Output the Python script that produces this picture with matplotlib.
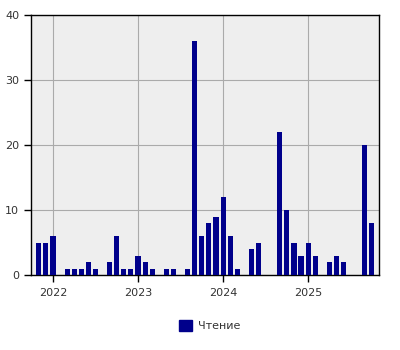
import matplotlib
matplotlib.use("Agg")
import matplotlib.pyplot as plt
import matplotlib.patches as mpatches

# Months from Nov 2021 to Oct 2025
months = []
for y in range(2021, 2026):
    for m in range(1, 13):
        if (y, m) >= (2021, 11) and (y, m) <= (2025, 10):
            months.append(f"{y}-{m:02d}")

values = [5, 5,                                   # 2021 Nov-Dec
          6, 0, 1, 1, 1, 2, 1, 0, 2, 6, 1, 1,     # 2022
          3, 2, 1, 0, 1, 1, 0, 1, 36, 6, 8, 9,    # 2023
          12, 6, 1, 0, 4, 5, 0, 0, 22, 10, 5, 3,  # 2024
          5, 3, 0, 2, 3, 2, 0, 0, 20, 8]          # 2025 Jan-Oct

year_labels = ["2022", "2023", "2024", "2025"]
series_name = "Чтение"

# position: months relative to Jan 2022
def pos(s):
    y, m = s.split("-")
    return (int(y) - 2022) * 12 + int(m) - 1

x = [pos(s) for s in months]
year_pos = [pos(f"{y}-01") for y in year_labels]

fig = plt.figure(figsize=(4, 3.5), dpi=100)
ax = fig.add_axes([0.0775, 0.214, 0.87, 0.743])
ax.set_facecolor("#eeeeee")
ax.bar(x, values, width=0.72, color="#00008b", zorder=3)
ax.set_xlim(-3.1, 46.0)
ax.set_ylim(0, 40)
ax.set_yticks([0, 10, 20, 30, 40])
ax.set_xticks(year_pos)
ax.set_xticklabels(year_labels)
ax.grid(True, color="#aaaaaa", linewidth=0.8, zorder=1)
for sp in ax.spines.values():
    sp.set_color("black")
    sp.set_linewidth(1.0)
ax.tick_params(axis="both", labelsize=8, colors="black", labelcolor="#333333",
               length=5, width=1)
ax.tick_params(axis="x", pad=4)

handle = mpatches.Patch(color="#00008b", label=series_name)
fig.legend(handles=[handle], loc="center", bbox_to_anchor=(0.525, 0.069),
           frameon=False, fontsize=8, handlelength=1.1, handleheight=1.1,
           handletextpad=0.6, labelcolor="#333333")

fig.savefig("out.png", dpi=100, facecolor="white")
